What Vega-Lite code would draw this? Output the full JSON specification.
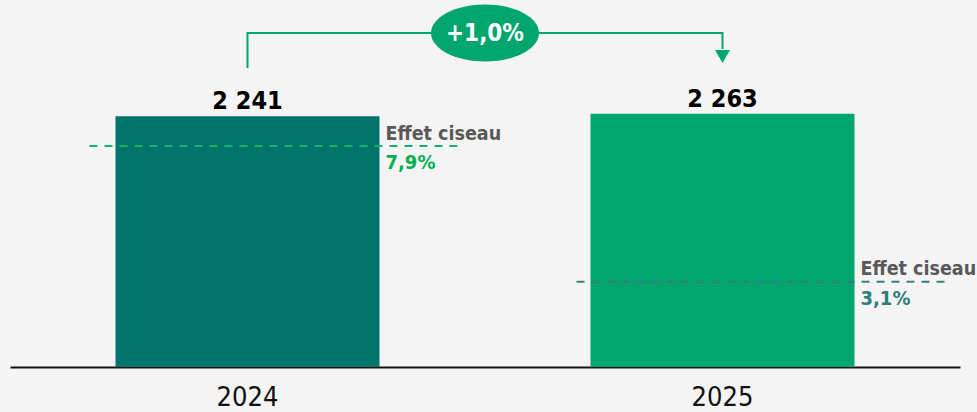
{
  "$schema": "https://vega.github.io/schema/vega-lite/v6.json",
  "width": 950,
  "height": 367,
  "autosize": {"type": "none"},
  "padding": {"left": 10, "top": 0, "right": 17, "bottom": 45},
  "background": "#f4f4f4",
  "config": {
    "view": {"stroke": null},
    "font": "DejaVu Sans Condensed, sans-serif",
    "text": {"font": "DejaVu Sans Condensed, sans-serif"}
  },
  "datasets": {
    "bars": [
      {"year": "2024", "value": 2241, "label": "2 241"},
      {"year": "2025", "value": 2263, "label": "2 263"}
    ],
    "ciseau": [
      {"year": "2024", "level": 1975, "name": "Effet ciseau", "pct": "7,9%"},
      {"year": "2025", "level": 762, "name": "Effet ciseau", "pct": "3,1%"}
    ],
    "connector": [
      {"year": "2024", "v": 2672, "order": 1},
      {"year": "2024", "v": 2985, "order": 2},
      {"year": "2025", "v": 2985, "order": 3},
      {"year": "2025", "v": 2842, "order": 4}
    ],
    "arrow": [{"year": "2025", "v": 2775}],
    "badge": [{"year": "2024", "v": 2985, "label": "+1,0%"}]
  },
  "encoding": {
    "x": {
      "field": "year",
      "type": "nominal",
      "sort": ["2024", "2025"],
      "scale": {"domain": ["2024", "2025"], "paddingInner": 0.4442, "paddingOuter": 0.2221, "align": 0.5},
      "axis": {
        "title": null,
        "labelAngle": 0,
        "ticks": false,
        "domainColor": "#111111",
        "domainWidth": 2,
        "labelFontSize": 27,
        "labelFont": "DejaVu Sans Condensed, sans-serif",
        "labelColor": "#111111",
        "labelPadding": 17
      }
    }
  },
  "layer": [
    {
      "data": {"name": "bars"},
      "mark": {"type": "bar"},
      "encoding": {
        "y": {"field": "value", "type": "quantitative", "scale": {"domain": [0, 3280], "nice": false, "zero": true}, "axis": null},
        "color": {"field": "year", "type": "nominal", "scale": {"domain": ["2024", "2025"], "range": ["#00736B", "#00A66E"]}, "legend": null}
      }
    },
    {
      "data": {"name": "bars"},
      "mark": {"type": "text", "fontSize": 25, "fontWeight": "bold", "color": "#000000", "baseline": "alphabetic", "dy": -7},
      "encoding": {
        "y": {"field": "value", "type": "quantitative"},
        "text": {"field": "label"}
      }
    },
    {
      "data": {"name": "ciseau"},
      "transform": [{"filter": "datum.year == '2024'"}],
      "mark": {"type": "rule", "color": "#13B36B", "strokeWidth": 2, "strokeDash": [8, 7], "xOffset": -158, "x2Offset": 217},
      "encoding": {
        "y": {"field": "level", "type": "quantitative"},
        "x2": {"field": "year"}
      }
    },
    {
      "data": {"name": "ciseau"},
      "transform": [{"filter": "datum.year == '2025'"}],
      "mark": {"type": "rule", "color": "#3A7E7B", "strokeWidth": 2, "strokeDash": [8, 7], "xOffset": -146, "x2Offset": 229},
      "encoding": {
        "y": {"field": "level", "type": "quantitative"},
        "x2": {"field": "year"}
      }
    },
    {
      "data": {"name": "ciseau"},
      "mark": {"type": "text", "fontSize": 19.5, "fontWeight": "bold", "color": "#595959", "align": "left", "baseline": "alphabetic", "dx": 138, "dy": -6.5},
      "encoding": {
        "y": {"field": "level", "type": "quantitative"},
        "text": {"field": "name"}
      }
    },
    {
      "data": {"name": "ciseau"},
      "transform": [{"filter": "datum.year == '2024'"}],
      "mark": {"type": "text", "fontSize": 20, "fontWeight": "bold", "color": "#00B050", "align": "left", "baseline": "alphabetic", "dx": 138, "dy": 23},
      "encoding": {
        "y": {"field": "level", "type": "quantitative"},
        "text": {"field": "pct"}
      }
    },
    {
      "data": {"name": "ciseau"},
      "transform": [{"filter": "datum.year == '2025'"}],
      "mark": {"type": "text", "fontSize": 20, "fontWeight": "bold", "color": "#2E7D7A", "align": "left", "baseline": "alphabetic", "dx": 138, "dy": 23},
      "encoding": {
        "y": {"field": "level", "type": "quantitative"},
        "text": {"field": "pct"}
      }
    },
    {
      "data": {"name": "connector"},
      "mark": {"type": "line", "color": "#00A66E", "strokeWidth": 2, "interpolate": "linear"},
      "encoding": {
        "y": {"field": "v", "type": "quantitative"},
        "order": {"field": "order", "type": "quantitative"}
      }
    },
    {
      "data": {"name": "arrow"},
      "mark": {"type": "point", "shape": "triangle-down", "size": 225, "filled": true, "color": "#00A66E", "opacity": 1},
      "encoding": {
        "y": {"field": "v", "type": "quantitative"}
      }
    },
    {
      "data": {"name": "badge"},
      "mark": {
        "type": "point",
        "shape": "M-1,0C-1,-0.2916,-0.5523,-0.528,0,-0.528C0.5523,-0.528,1,-0.2916,1,0C1,0.2916,0.5523,0.528,0,0.528C-0.5523,0.528,-1,0.2916,-1,0Z",
        "size": 11664,
        "filled": true,
        "color": "#00A66E",
        "opacity": 1,
        "xOffset": 237.5
      },
      "encoding": {
        "y": {"field": "v", "type": "quantitative"}
      }
    },
    {
      "data": {"name": "badge"},
      "mark": {"type": "text", "fontSize": 24, "fontWeight": "bold", "color": "#ffffff", "baseline": "middle", "dx": 237.5, "dy": 1},
      "encoding": {
        "y": {"field": "v", "type": "quantitative"},
        "text": {"field": "label"}
      }
    }
  ]
}
